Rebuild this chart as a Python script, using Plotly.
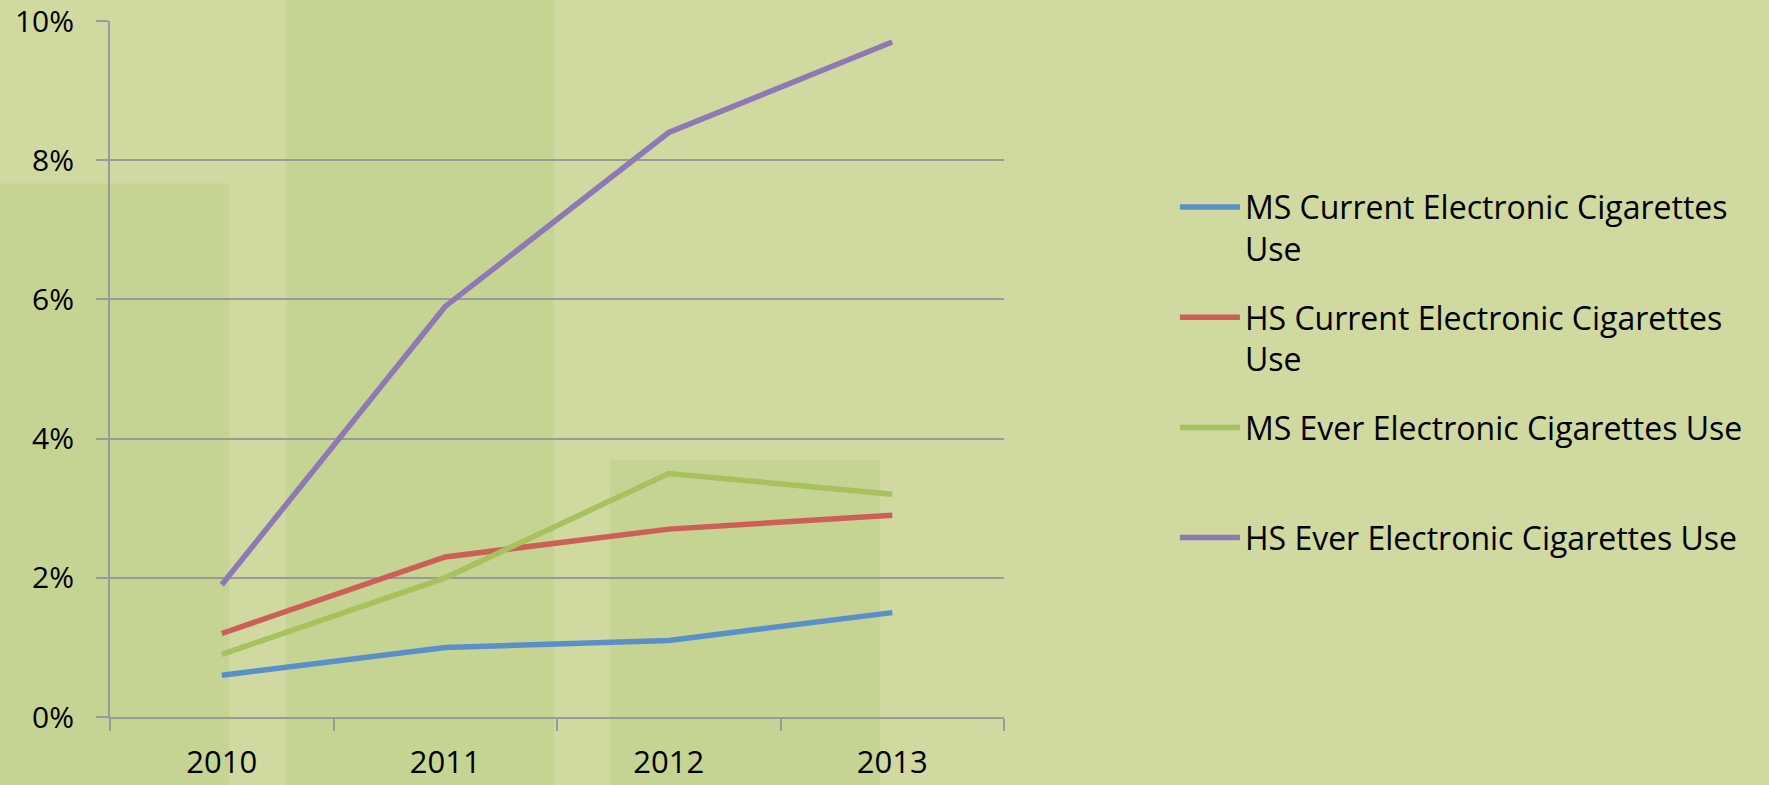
import plotly.graph_objects as go

years = ["2010", "2011", "2012", "2013"]
ms_current = [0.006, 0.010, 0.011, 0.015]
hs_current = [0.012, 0.023, 0.027, 0.029]
ms_ever = [0.009, 0.020, 0.035, 0.032]
hs_ever = [0.019, 0.059, 0.084, 0.097]

series_names = [
    "MS Current Electronic Cigarettes<br>Use",
    "HS Current Electronic Cigarettes<br>Use",
    "MS Ever Electronic Cigarettes Use<br> ",
    "HS Ever Electronic Cigarettes Use",
]
series_values = [ms_current, hs_current, ms_ever, hs_ever]
series_colors = ["#5B8FC9", "#CE5F58", "#A6C15E", "#8F79B5"]
y_ticks = [0, 0.02, 0.04, 0.06, 0.08, 0.10]

FONT = "Open Sans"
BG = "#CFD9A0"
DARK = "#C5D492"
GRID = "#9A9A9A"

fig = go.Figure()
for i, (name, vals, col) in enumerate(zip(series_names, series_values, series_colors)):
    fig.add_trace(go.Scatter(
        x=years, y=vals, name=name, mode="lines",
        line=dict(color=col, width=5.5),
        legendgroup=f"g{i}",
    ))

# decorative background panels
panels = [(-0.13, 0.1331, -0.2, 0.7665), (0.1969, 0.4966, -0.2, 1.05), (0.5593, 0.8613, -0.2, 0.3696)]
for x0, x1, y0, y1 in panels:
    fig.add_shape(type="rect", xref="paper", yref="paper", x0=x0, x1=x1, y0=y0, y1=y1,
                  fillcolor=DARK, line=dict(width=0), layer="below")

fig.update_layout(
    width=1769, height=785,
    paper_bgcolor=BG, plot_bgcolor="rgba(0,0,0,0)",
    margin=dict(l=110, r=765, t=21, b=68, autoexpand=False),
    font=dict(family=FONT, size=32, color="#000000"),
    showlegend=True,
    legend=dict(
        x=1.1912, xanchor="left", y=0.772, yanchor="top",
        font=dict(family=FONT, size=32, color="#000000"),
        bgcolor="rgba(0,0,0,0)", itemwidth=60, valign="top",
        tracegroupgap=24,
    ),
)
fig.update_xaxes(
    type="category", range=[-0.5, 3.5], automargin=False,
    showline=True, linecolor=GRID, linewidth=2,
    ticks="outside", tickson="boundaries", ticklen=12, tickwidth=2, tickcolor=GRID,
    showgrid=False, ticklabelstandoff=17,
    tickfont=dict(family=FONT, size=31, color="#000000"),
)
fig.update_yaxes(
    range=[0, 0.10002], tickvals=y_ticks, tickformat=".0%", automargin=False,
    showline=True, linecolor=GRID, linewidth=2,
    ticks="outside", ticklen=12, tickwidth=2, tickcolor=GRID,
    showgrid=True, gridcolor=GRID, gridwidth=2, zeroline=False,
    ticklabelstandoff=16, ticklabeloverflow="allow",
    tickfont=dict(family=FONT, size=30, color="#000000"),
)

fig.write_html(
    "out.html",
    config={"displayModeBar": False},
    post_script="document.body.style.margin='0';document.body.style.background='" + BG + "';",
)
